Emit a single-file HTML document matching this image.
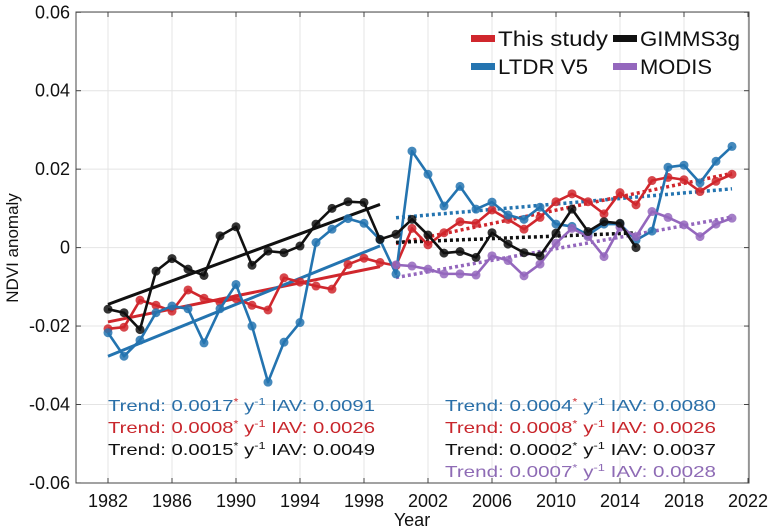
<!DOCTYPE html>
<html><head><meta charset="utf-8"><style>
body{margin:0;background:#fff;}
svg{display:block;font-family:"Liberation Sans","DejaVu Sans",sans-serif;}
</style></head><body>
<svg id="chart" width="777" height="531" viewBox="0 0 777 531">
<g id="grid"></g>
<g id="trends"></g>
<g id="series"></g>
<rect x="76" y="12" width="673" height="471" fill="none" stroke="#444" stroke-width="1"/>
<g id="axes"></g>
<text x="18" y="248" font-size="17" text-anchor="middle" transform="rotate(-90 18 248)" fill="#111">NDVI anomaly</text>
<text x="412" y="526" font-size="18" text-anchor="middle" fill="#111">Year</text>
<g font-size="21" fill="#111">
<g><rect x="471" y="35" width="24" height="7" fill="#d0272d"/><text x="498" y="46" textLength="110" lengthAdjust="spacingAndGlyphs">This study</text></g>
<g><rect x="613" y="35" width="24" height="7" fill="#111"/><text x="640" y="46" textLength="100" lengthAdjust="spacingAndGlyphs">GIMMS3g</text></g>
<g><rect x="471" y="63" width="24" height="7" fill="#2474b0"/><text x="498" y="74" textLength="90" lengthAdjust="spacingAndGlyphs">LTDR V5</text></g>
<g><rect x="613" y="63" width="24" height="7" fill="#9467bd"/><text x="640" y="74" textLength="72" lengthAdjust="spacingAndGlyphs">MODIS</text></g>
</g>
<g font-size="16">
<text x="108" y="411" fill="#2a6fa8" textLength="267" lengthAdjust="spacingAndGlyphs">Trend: 0.0017<tspan font-size="10" dy="-6" fill="#d0272d">*</tspan><tspan dy="6"> y</tspan><tspan font-size="10" dy="-6">-1</tspan><tspan dy="6"> IAV: 0.0091</tspan></text>
<text x="108" y="433" fill="#c8262c" textLength="267" lengthAdjust="spacingAndGlyphs">Trend: 0.0008<tspan font-size="10" dy="-6">*</tspan><tspan dy="6"> y</tspan><tspan font-size="10" dy="-6">-1</tspan><tspan dy="6"> IAV: 0.0026</tspan></text>
<text x="108" y="455" fill="#111" textLength="267" lengthAdjust="spacingAndGlyphs">Trend: 0.0015<tspan font-size="10" dy="-6">*</tspan><tspan dy="6"> y</tspan><tspan font-size="10" dy="-6">-1</tspan><tspan dy="6"> IAV: 0.0049</tspan></text>
</g>
<g font-size="16">
<text x="445" y="411" fill="#2a6fa8" textLength="271" lengthAdjust="spacingAndGlyphs">Trend:  0.0004<tspan font-size="10" dy="-6" fill="#d0272d">*</tspan><tspan dy="6"> y</tspan><tspan font-size="10" dy="-6">-1</tspan><tspan dy="6"> IAV: 0.0080</tspan></text>
<text x="445" y="433" fill="#c8262c" textLength="271" lengthAdjust="spacingAndGlyphs">Trend:  0.0008<tspan font-size="10" dy="-6">*</tspan><tspan dy="6"> y</tspan><tspan font-size="10" dy="-6">-1</tspan><tspan dy="6"> IAV: 0.0026</tspan></text>
<text x="445" y="455" fill="#111" textLength="271" lengthAdjust="spacingAndGlyphs">Trend:  0.0002<tspan font-size="10" dy="-6">*</tspan><tspan dy="6"> y</tspan><tspan font-size="10" dy="-6">-1</tspan><tspan dy="6"> IAV: 0.0037</tspan></text>
<text x="445" y="477" fill="#8e6bb5" textLength="271" lengthAdjust="spacingAndGlyphs">Trend:  0.0007<tspan font-size="10" dy="-6">*</tspan><tspan dy="6"> y</tspan><tspan font-size="10" dy="-6">-1</tspan><tspan dy="6"> IAV: 0.0028</tspan></text>
</g>
</svg>
<script>
const xTicks = [1982,1986,1990,1994,1998,2002,2006,2010,2014,2018,2022];
const yTicks = [-0.06,-0.04,-0.02,0,0.02,0.04,0.06];
const yTickLabels = ["-0.06","-0.04","-0.02","0","0.02","0.04","0.06"];
const thisStudyYears = [1982,1983,1984,1985,1986,1987,1988,1989,1990,1991,1992,1993,1994,1995,1996,1997,1998,1999,2000,2001,2002,2003,2004,2005,2006,2007,2008,2009,2010,2011,2012,2013,2014,2015,2016,2017,2018,2019,2020,2021];
const thisStudy = [-0.0207,-0.0203,-0.0134,-0.0147,-0.0162,-0.0108,-0.0129,-0.0139,-0.013,-0.0147,-0.0159,-0.0077,-0.0088,-0.0098,-0.0106,-0.0043,-0.0027,-0.0038,-0.0046,0.0049,0.0007,0.0038,0.0066,0.0062,0.0096,0.0072,0.0047,0.0077,0.0117,0.0137,0.0117,0.0086,0.014,0.0109,0.0171,0.0179,0.0173,0.0143,0.0169,0.0187];
const ltdrYears = thisStudyYears;
const ltdr = [-0.0217,-0.0277,-0.0236,-0.0166,-0.0149,-0.0156,-0.0243,-0.0156,-0.0094,-0.02,-0.0343,-0.0241,-0.0191,0.0013,0.0047,0.0074,0.0062,0.002,-0.0067,0.0246,0.0187,0.0106,0.0156,0.0098,0.0116,0.0083,0.0072,0.0103,0.006,0.0054,0.0032,0.006,0.006,0.0019,0.0042,0.0205,0.021,0.0165,0.022,0.0258];
const gimmsYears = [1982,1983,1984,1985,1986,1987,1988,1989,1990,1991,1992,1993,1994,1995,1996,1997,1998,1999,2000,2001,2002,2003,2004,2005,2006,2007,2008,2009,2010,2011,2012,2013,2014,2015];
const gimms = [-0.0157,-0.0166,-0.0209,-0.006,-0.0028,-0.0055,-0.0071,0.003,0.0053,-0.0045,-0.0009,-0.0013,0.0004,0.006,0.01,0.0117,0.0115,0.0021,0.0034,0.0072,0.0032,-0.0014,-0.001,-0.0025,0.0038,0.0009,-0.0013,-0.0021,0.0037,0.0098,0.0041,0.0066,0.0062,0.0];
const modisYears = [2000,2001,2002,2003,2004,2005,2006,2007,2008,2009,2010,2011,2012,2013,2014,2015,2016,2017,2018,2019,2020,2021];
const modis = [-0.0044,-0.0047,-0.0055,-0.0067,-0.0067,-0.007,-0.0021,-0.0033,-0.0072,-0.0042,0.0011,0.0049,0.0028,-0.0023,0.0052,0.0028,0.0092,0.0077,0.0058,0.0028,0.006,0.0075];

const NS='http://www.w3.org/2000/svg';
const X = yr => 76 + (yr-1980)*16;
const Y = v => 247.6 - v/0.02*78.45;
function el(tag, attrs, parent){const e=document.createElementNS(NS,tag);for(const k in attrs)e.setAttribute(k,attrs[k]);parent.appendChild(e);return e;}
const grid=document.getElementById('grid'), axes=document.getElementById('axes'), trends=document.getElementById('trends'), series=document.getElementById('series');
xTicks.forEach(t=>{
  const g=el('line',{x1:X(t),x2:X(t),y1:12,y2:483,stroke:'#e4e4e4','stroke-width':1},grid);
  
  
  el('line',{x1:X(t),x2:X(t),y1:483,y2:478,stroke:'#444'},axes);
  el('line',{x1:X(t),x2:X(t),y1:12,y2:17,stroke:'#444'},axes);
  const tx=el('text',{x:X(t),y:507,'font-size':18,'text-anchor':'middle',fill:'#111'},axes);
  tx.textContent=t;
  
  
});
yTicks.forEach((t,i)=>{
  const g=el('line',{x1:76,x2:749,y1:Y(t),y2:Y(t),stroke:'#e4e4e4','stroke-width':1},grid);
  
  
  el('line',{x1:76,x2:81,y1:Y(t),y2:Y(t),stroke:'#444'},axes);
  el('line',{x1:744,x2:749,y1:Y(t),y2:Y(t),stroke:'#444'},axes);
  const tx=el('text',{x:70,y:Y(t)+6,'font-size':18,'text-anchor':'end',fill:'#111'},axes);
  tx.textContent=yTickLabels[i];
  
  
});
function fit(xs,ys,a,b){
  const px=[],py=[];xs.forEach((x,i)=>{if(x>=a&&x<=b){px.push(x);py.push(ys[i]);}});
  const n=px.length,mx=px.reduce((s,v)=>s+v,0)/n,my=py.reduce((s,v)=>s+v,0)/n;
  let sxy=0,sxx=0;px.forEach((x,i)=>{sxy+=(x-mx)*(py[i]-my);sxx+=(x-mx)*(x-mx);});
  const m=sxy/sxx;return [a,b,my+m*(a-mx),my+m*(b-mx)];
}
function trend(xs,ys,a,b,color,dotted,name){
  const f=fit(xs,ys,a,b);
  const l=el('line',{x1:X(f[0]),x2:X(f[1]),y1:Y(f[2]),y2:Y(f[3]),stroke:color,'stroke-width':dotted?3.5:3},trends);
  if(dotted)l.setAttribute('stroke-dasharray','3 3');
  
  
}
const C={red:'#d0272d',blue:'#2474b0',black:'#111111',purple:'#9467bd'};
trend(gimmsYears,gimms,1982,1999,C.black,false,'trend-gimms-early');
trend(thisStudyYears,thisStudy,1982,1999,C.red,false,'trend-this-study-early');
trend(ltdrYears,ltdr,1982,1999,C.blue,false,'trend-ltdr-early');
trend(ltdrYears,ltdr,2000,2021,C.blue,true,'trend-ltdr-late');
trend(thisStudyYears,thisStudy,2000,2021,C.red,true,'trend-this-study-late');
trend(gimmsYears,gimms,2000,2015,C.black,true,'trend-gimms-late');
trend(modisYears,modis,2000,2021,C.purple,true,'trend-modis-late');
function drawSeries(xs,ys,color,name){
  const g=el('g',{},series);
  
  
  const p=el('polyline',{points:xs.map((x,i)=>X(x)+','+Y(ys[i])).join(' '),fill:'none',stroke:color,'stroke-width':2.6,'stroke-linejoin':'round'},g);
  
  
  xs.forEach((x,i)=>{
    const c=el('circle',{cx:X(x),cy:Y(ys[i]),r:4.5,fill:color,'fill-opacity':0.85},g);
    
    
  });
}
drawSeries(thisStudyYears,thisStudy,C.red,'series-this-study');
drawSeries(ltdrYears,ltdr,C.blue,'series-ltdr-v5');
drawSeries(modisYears,modis,C.purple,'series-modis');
drawSeries(gimmsYears,gimms,C.black,'series-gimms3g');
</script>
</body></html>
